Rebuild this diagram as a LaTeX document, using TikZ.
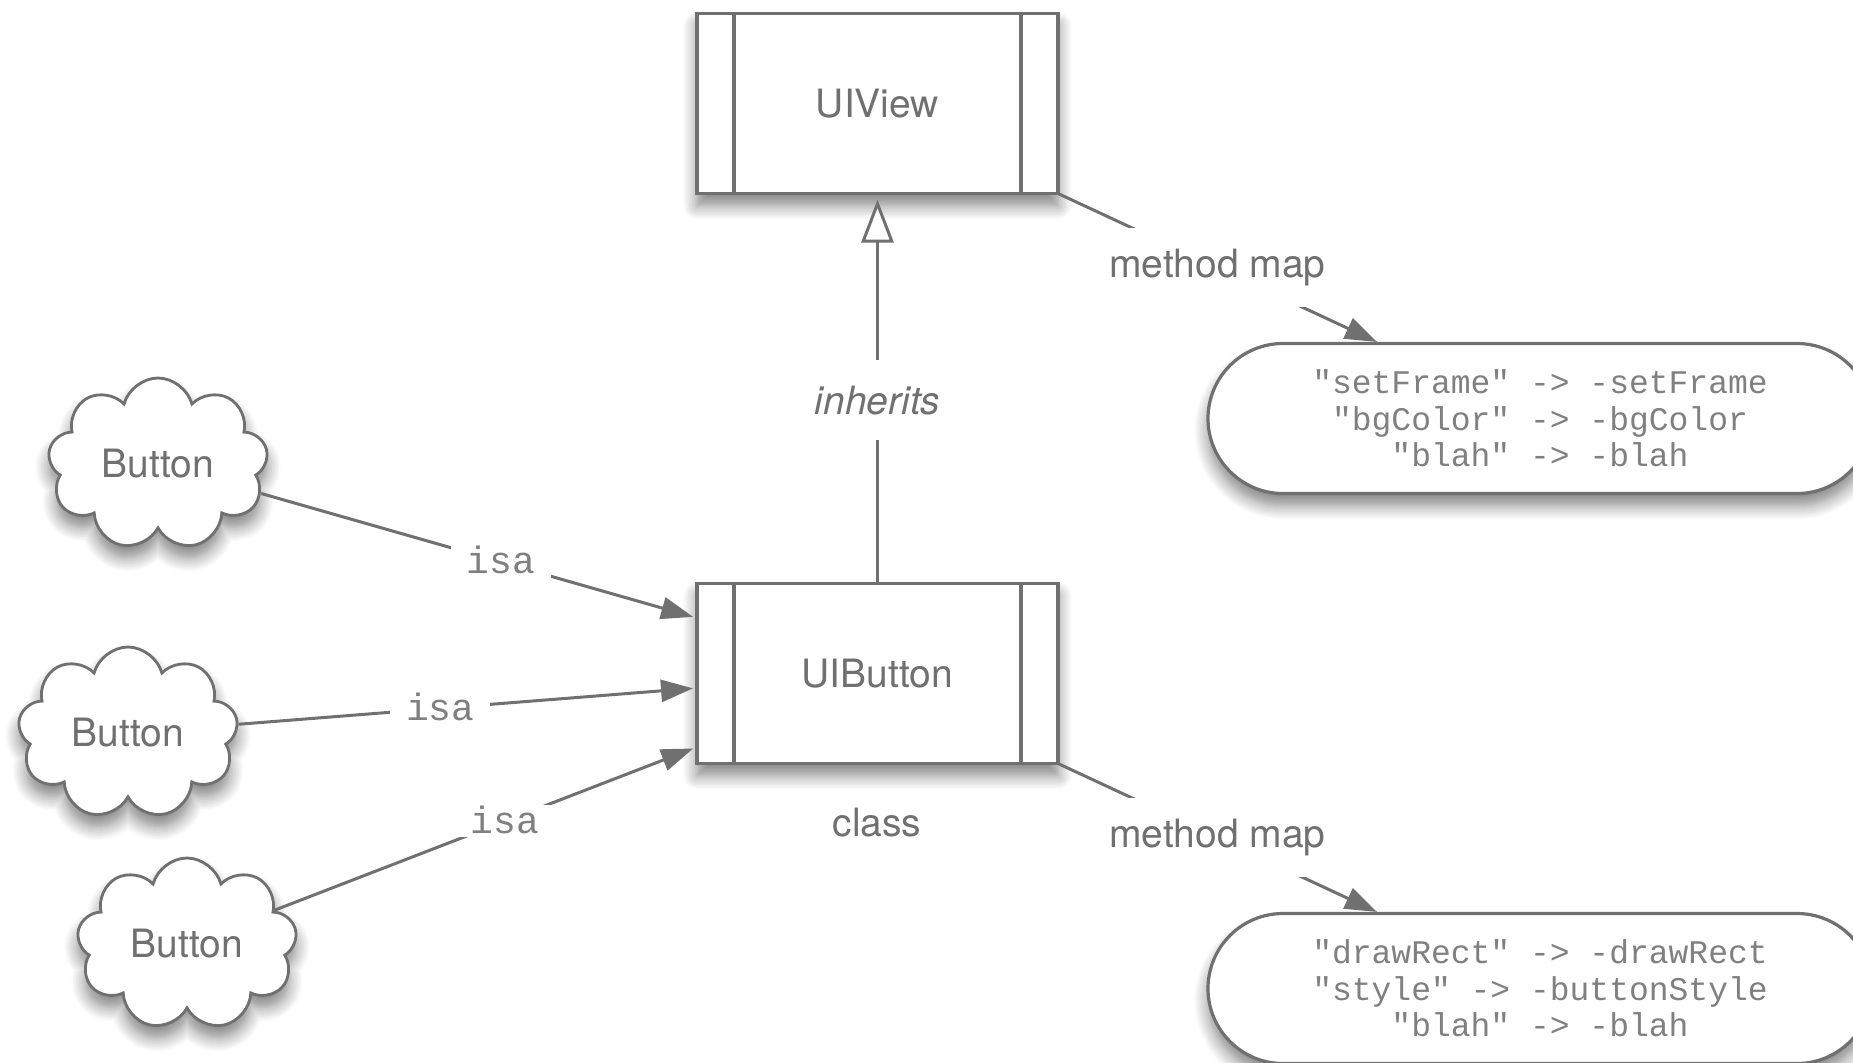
\documentclass[tikz,border=0pt]{standalone}
\usepackage{fontspec}
\setsansfont{TeX Gyre Heros}
\newfontfamily\codefont{Liberation Mono}
\usetikzlibrary{arrows.meta,shapes.symbols,shadows.blur}
\definecolor{ink}{RGB}{112,112,112}
\definecolor{txt}{RGB}{112,112,112}
\definecolor{codetxt}{RGB}{128,128,128}

\begin{document}
\begin{tikzpicture}[x=0.5pt,y=-0.5pt,
  font=\sffamily\fontsize{19.5pt}{23pt}\selectfont,
  every node/.style={text=txt},
  softshadow/.style={blur shadow={shadow xshift=0pt, shadow yshift=-6pt,
      shadow blur radius=7pt, shadow blur steps=10, shadow opacity=50}},
  classbox/.style={draw=ink, line width=1.6pt, fill=white, outer sep=0pt,
      minimum width=180.5pt, minimum height=90pt, inner sep=0pt, softshadow},
  cloudbox/.style={cloud, cloud puffs=9, cloud puff arc=150, cloud ignores aspect,
      draw=ink, line width=1.4pt, fill=white, minimum width=110pt,
      minimum height=86pt, inner sep=0pt, softshadow},
  pill/.style={draw=ink, line width=1.6pt, fill=white, rounded corners=37.5pt,
      minimum width=332pt, minimum height=75pt, align=center, text=codetxt,
      font=\codefont\fontsize{16.5pt}{18.3pt}\selectfont, softshadow},
  conn/.style={draw=ink, line width=1.5pt},
  solidarrow/.style={conn, -{Triangle[length=16pt,width=11pt]}},
  isalabel/.style={fill=white, text=codetxt, font=\codefont\fontsize{19pt}{22pt}\selectfont,
      text height=12pt, text depth=0pt, inner xsep=8pt, inner ysep=2pt},
  maplabel/.style={fill=white, inner xsep=4pt, inner ysep=10.5pt},
  inhlabel/.style={fill=white, inner xsep=4pt, inner ysep=13pt, text depth=0pt}
]
\useasboundingbox (0,0) rectangle (1853,1062);

% classes
\node[classbox] (uiv) at (877.5,103.5) {UIView};
\node[classbox] (ubtn) at (877.5,673.5) {UIButton};
\foreach \n in {uiv,ubtn}{
  \draw[ink, line width=1.6pt] ([xshift=18.5pt]\n.north west) -- ([xshift=18.5pt]\n.south west);
  \draw[ink, line width=1.6pt] ([xshift=-18.5pt]\n.north east) -- ([xshift=-18.5pt]\n.south east);
}
\node (cls) at (877,823) {class};

% instances
\node[cloudbox] (c1) at (158,464) {Button};
\node[cloudbox] (c2) at (128,733) {Button};
\node[cloudbox] (c3) at (187,944) {Button};

% method maps
\node[pill] (tp) at (1540,418.5) {"setFrame" -> -setFrame\\"bgColor" -> -bgColor\\"blah" -> -blah};
\node[pill] (bp) at (1540,988.5) {"drawRect" -> -drawRect\\"style" -> -buttonStyle\\"blah" -> -blah};

% isa links
\draw[solidarrow, shorten >=2pt] (c1) -- ([yshift=27.75pt]ubtn.west)
  node[isalabel, pos=0.55] {isa};
\draw[solidarrow, shorten >=2pt] (c2) -- ([yshift=-7.25pt]ubtn.west)
  node[isalabel, pos=0.44] {isa};
\draw[solidarrow, shorten >=2pt] (c3) -- ([yshift=-36.75pt]ubtn.west)
  node[isalabel, pos=0.545] {isa};

% inheritance
\draw[conn, -{Triangle[length=21.5pt,width=16pt,fill=white]}] (ubtn.north) -- ([yshift=-3pt]uiv.south)
  node[inhlabel, pos=0.478] {\itshape inherits};

% method map links
\draw[solidarrow] (uiv.south east) -- ([xshift=-81.5pt]tp.north)
  node[maplabel, pos=0.5] {method map};
\draw[solidarrow] (ubtn.south east) -- ([xshift=-81.5pt]bp.north)
  node[maplabel, pos=0.5] {method map};
\end{tikzpicture}
\end{document}
